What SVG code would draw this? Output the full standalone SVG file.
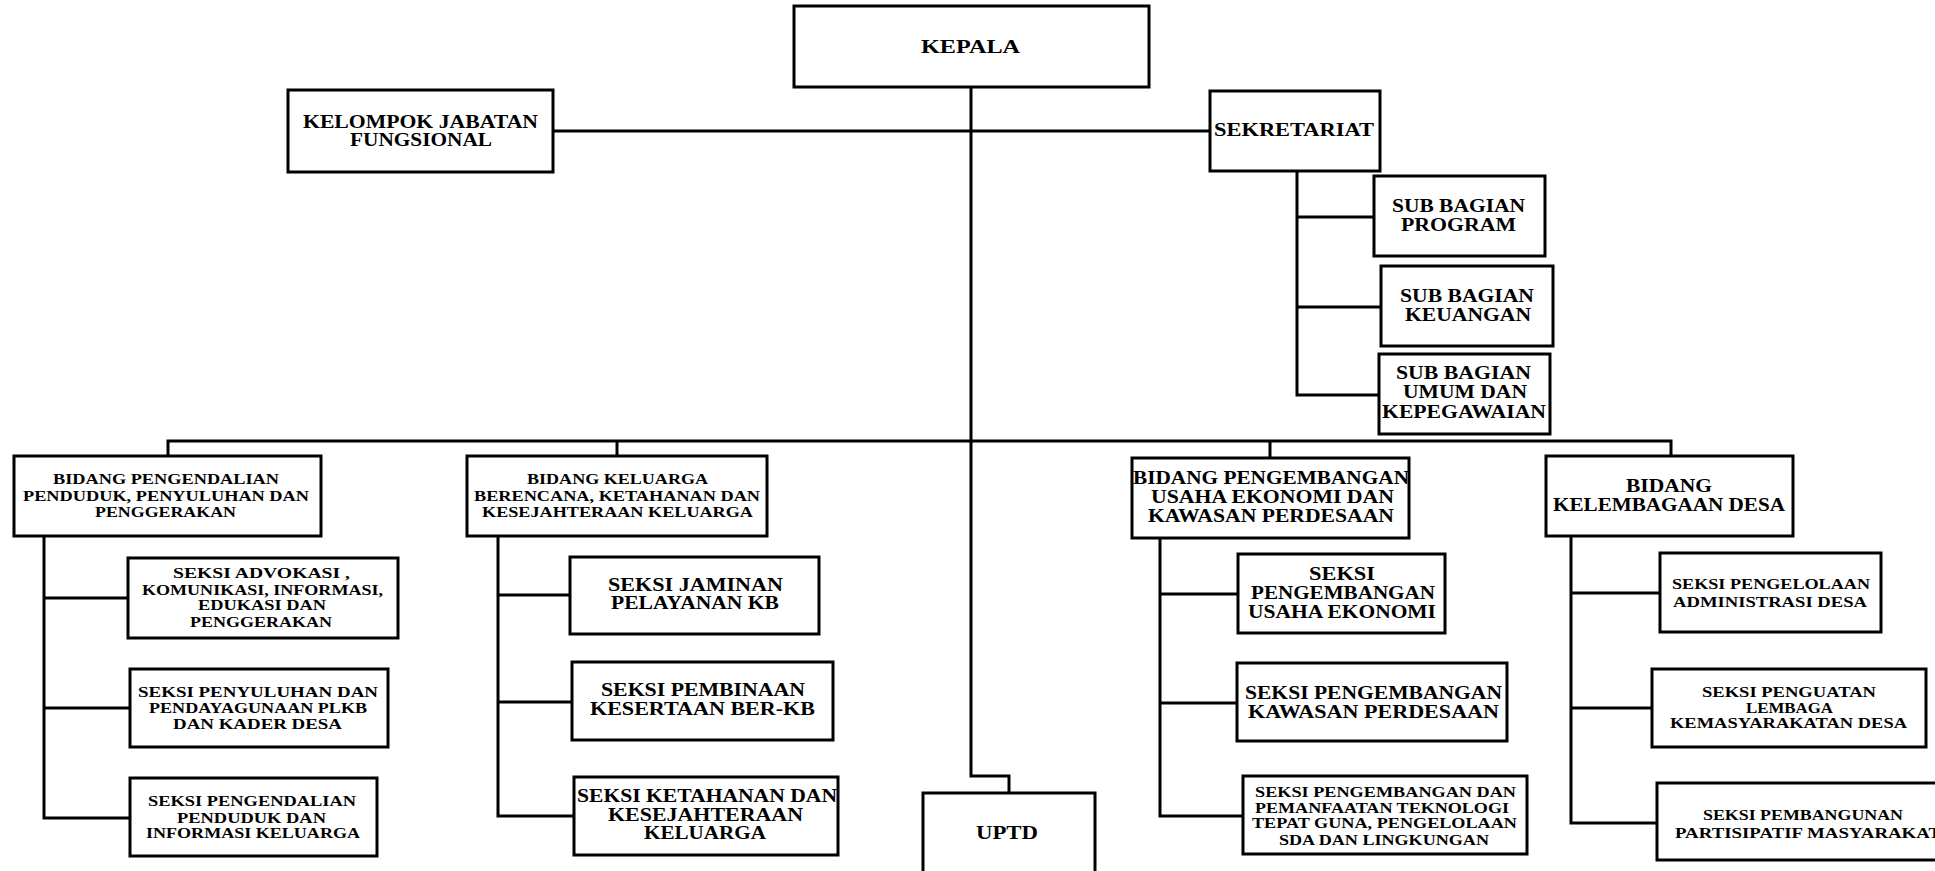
<svg xmlns="http://www.w3.org/2000/svg" width="1935" height="871" viewBox="0 0 1935 871">
<style>
.box{fill:#fff;stroke:#000;stroke-width:3}
.conn{fill:none;stroke:#000;stroke-width:3}
text{font-family:"Liberation Serif","DejaVu Serif",serif;font-weight:bold;fill:#000}
.b{font-size:18px}
.s{font-size:14px}
</style>
<rect width="1935" height="871" fill="#fff"/>
<g id="connectors">
<path class="conn" d="M971,87 V776 H1009 V793"/>
<path class="conn" d="M553,131 H1210"/>
<path class="conn" d="M168,456 V441 H1671 V456"/>
<path class="conn" d="M617,441 V456"/>
<path class="conn" d="M1270,441 V458"/>
<path class="conn" d="M1297,171 V395 H1379"/>
<path class="conn" d="M1297,217 H1374"/>
<path class="conn" d="M1297,307 H1381"/>
<path class="conn" d="M44,536 V818 H130"/>
<path class="conn" d="M44,598 H128"/>
<path class="conn" d="M44,708 H130"/>
<path class="conn" d="M498,536 V816 H574"/>
<path class="conn" d="M498,595 H570"/>
<path class="conn" d="M498,702 H572"/>
<path class="conn" d="M1160,538 V816 H1243"/>
<path class="conn" d="M1160,594 H1238"/>
<path class="conn" d="M1160,703 H1237"/>
<path class="conn" d="M1571,536 V823 H1657"/>
<path class="conn" d="M1571,593 H1660"/>
<path class="conn" d="M1571,708 H1652"/>
</g>
<g id="kepala">
<rect class="box" x="794" y="6" width="355" height="81"/>
<text class="b" x="921" y="53" textLength="99" lengthAdjust="spacingAndGlyphs">KEPALA</text>
</g>
<g id="kelompok">
<rect class="box" x="288" y="90" width="265" height="82"/>
<text class="b" x="303" y="128" textLength="235" lengthAdjust="spacingAndGlyphs">KELOMPOK JABATAN</text>
<text class="b" x="350" y="146" textLength="142" lengthAdjust="spacingAndGlyphs">FUNGSIONAL</text>
</g>
<g id="sekretariat">
<rect class="box" x="1210" y="91" width="170" height="80"/>
<text class="b" x="1214" y="136" textLength="160" lengthAdjust="spacingAndGlyphs">SEKRETARIAT</text>
</g>
<g id="sub-program">
<rect class="box" x="1374" y="176" width="171" height="80"/>
<text class="b" x="1392" y="212" textLength="133" lengthAdjust="spacingAndGlyphs">SUB BAGIAN</text>
<text class="b" x="1401" y="231" textLength="115" lengthAdjust="spacingAndGlyphs">PROGRAM</text>
</g>
<g id="sub-keuangan">
<rect class="box" x="1381" y="266" width="172" height="80"/>
<text class="b" x="1400" y="302" textLength="134" lengthAdjust="spacingAndGlyphs">SUB BAGIAN</text>
<text class="b" x="1405" y="321" textLength="126" lengthAdjust="spacingAndGlyphs">KEUANGAN</text>
</g>
<g id="sub-umum">
<rect class="box" x="1379" y="354" width="171" height="80"/>
<text class="b" x="1396" y="379" textLength="135" lengthAdjust="spacingAndGlyphs">SUB BAGIAN</text>
<text class="b" x="1403" y="398" textLength="124" lengthAdjust="spacingAndGlyphs">UMUM DAN</text>
<text class="b" x="1382" y="418" textLength="164" lengthAdjust="spacingAndGlyphs">KEPEGAWAIAN</text>
</g>
<g id="bidang-pengendalian">
<rect class="box" x="14" y="456" width="307" height="80"/>
<text class="s" x="53" y="484" textLength="226" lengthAdjust="spacingAndGlyphs">BIDANG  PENGENDALIAN</text>
<text class="s" x="23" y="501" textLength="286" lengthAdjust="spacingAndGlyphs">PENDUDUK,  PENYULUHAN DAN</text>
<text class="s" x="95" y="517" textLength="141" lengthAdjust="spacingAndGlyphs">PENGGERAKAN</text>
</g>
<g id="seksi-advokasi">
<rect class="box" x="128" y="558" width="270" height="80"/>
<text class="s" x="173" y="578" textLength="177" lengthAdjust="spacingAndGlyphs">SEKSI   ADVOKASI ,</text>
<text class="s" x="142" y="595" textLength="241" lengthAdjust="spacingAndGlyphs">KOMUNIKASI,  INFORMASI,</text>
<text class="s" x="198" y="610" textLength="128" lengthAdjust="spacingAndGlyphs">EDUKASI DAN</text>
<text class="s" x="190" y="627" textLength="142" lengthAdjust="spacingAndGlyphs">PENGGERAKAN</text>
</g>
<g id="seksi-penyuluhan">
<rect class="box" x="130" y="669" width="258" height="78"/>
<text class="s" x="138" y="697" textLength="240" lengthAdjust="spacingAndGlyphs">SEKSI   PENYULUHAN DAN</text>
<text class="s" x="149" y="713" textLength="218" lengthAdjust="spacingAndGlyphs">PENDAYAGUNAAN PLKB</text>
<text class="s" x="173" y="729" textLength="169" lengthAdjust="spacingAndGlyphs">DAN KADER  DESA</text>
</g>
<g id="seksi-pengendalian">
<rect class="box" x="130" y="778" width="247" height="78"/>
<text class="s" x="148" y="806" textLength="208" lengthAdjust="spacingAndGlyphs">SEKSI PENGENDALIAN</text>
<text class="s" x="177" y="823" textLength="149" lengthAdjust="spacingAndGlyphs">PENDUDUK  DAN</text>
<text class="s" x="146" y="838" textLength="214" lengthAdjust="spacingAndGlyphs">INFORMASI  KELUARGA</text>
</g>
<g id="bidang-kb">
<rect class="box" x="467" y="456" width="300" height="80"/>
<text class="s" x="527" y="484" textLength="181" lengthAdjust="spacingAndGlyphs">BIDANG  KELUARGA</text>
<text class="s" x="474" y="501" textLength="286" lengthAdjust="spacingAndGlyphs">BERENCANA,  KETAHANAN DAN</text>
<text class="s" x="482" y="517" textLength="271" lengthAdjust="spacingAndGlyphs">KESEJAHTERAAN KELUARGA</text>
</g>
<g id="seksi-jaminan">
<rect class="box" x="570" y="557" width="249" height="77"/>
<text class="b" x="608" y="591" textLength="175" lengthAdjust="spacingAndGlyphs">SEKSI JAMINAN</text>
<text class="b" x="611" y="609" textLength="168" lengthAdjust="spacingAndGlyphs">PELAYANAN KB</text>
</g>
<g id="seksi-pembinaan">
<rect class="box" x="572" y="662" width="261" height="78"/>
<text class="b" x="601" y="696" textLength="204" lengthAdjust="spacingAndGlyphs">SEKSI PEMBINAAN</text>
<text class="b" x="590" y="715" textLength="225" lengthAdjust="spacingAndGlyphs">KESERTAAN BER-KB</text>
</g>
<g id="seksi-ketahanan">
<rect class="box" x="574" y="777" width="264" height="78"/>
<text class="b" x="577" y="802" textLength="260" lengthAdjust="spacingAndGlyphs">SEKSI KETAHANAN DAN</text>
<text class="b" x="608" y="821" textLength="195" lengthAdjust="spacingAndGlyphs">KESEJAHTERAAN</text>
<text class="b" x="644" y="839" textLength="122" lengthAdjust="spacingAndGlyphs">KELUARGA</text>
</g>
<g id="uptd">
<rect class="box" x="923" y="793" width="172" height="95"/>
<text class="b" x="976" y="839" textLength="62" lengthAdjust="spacingAndGlyphs">UPTD</text>
</g>
<g id="bidang-pengembangan">
<rect class="box" x="1132" y="458" width="277" height="80"/>
<text class="b" x="1133" y="484" textLength="276" lengthAdjust="spacingAndGlyphs">BIDANG PENGEMBANGAN</text>
<text class="b" x="1151" y="503" textLength="243" lengthAdjust="spacingAndGlyphs">USAHA EKONOMI DAN</text>
<text class="b" x="1148" y="522" textLength="246" lengthAdjust="spacingAndGlyphs">KAWASAN PERDESAAN</text>
</g>
<g id="seksi-usaha-ekonomi">
<rect class="box" x="1238" y="554" width="207" height="79"/>
<text class="b" x="1309" y="580" textLength="66" lengthAdjust="spacingAndGlyphs">SEKSI</text>
<text class="b" x="1251" y="599" textLength="184" lengthAdjust="spacingAndGlyphs">PENGEMBANGAN</text>
<text class="b" x="1248" y="618" textLength="188" lengthAdjust="spacingAndGlyphs">USAHA EKONOMI</text>
</g>
<g id="seksi-kawasan">
<rect class="box" x="1237" y="663" width="270" height="78"/>
<text class="b" x="1245" y="699" textLength="257" lengthAdjust="spacingAndGlyphs">SEKSI PENGEMBANGAN</text>
<text class="b" x="1248" y="718" textLength="251" lengthAdjust="spacingAndGlyphs">KAWASAN PERDESAAN</text>
</g>
<g id="seksi-teknologi">
<rect class="box" x="1243" y="776" width="284" height="78"/>
<text class="s" x="1255" y="797" textLength="261" lengthAdjust="spacingAndGlyphs">SEKSI PENGEMBANGAN  DAN</text>
<text class="s" x="1255" y="813" textLength="254" lengthAdjust="spacingAndGlyphs">PEMANFAATAN  TEKNOLOGI</text>
<text class="s" x="1252" y="828" textLength="265" lengthAdjust="spacingAndGlyphs">TEPAT  GUNA, PENGELOLAAN</text>
<text class="s" x="1279" y="845" textLength="210" lengthAdjust="spacingAndGlyphs">SDA DAN LINGKUNGAN</text>
</g>
<g id="bidang-kelembagaan">
<rect class="box" x="1546" y="456" width="247" height="80"/>
<text class="b" x="1626" y="492" textLength="86" lengthAdjust="spacingAndGlyphs">BIDANG</text>
<text class="b" x="1553" y="511" textLength="232" lengthAdjust="spacingAndGlyphs">KELEMBAGAAN DESA</text>
</g>
<g id="seksi-administrasi">
<rect class="box" x="1660" y="553" width="221" height="79"/>
<text class="s" x="1672" y="589" textLength="198" lengthAdjust="spacingAndGlyphs">SEKSI PENGELOLAAN</text>
<text class="s" x="1673" y="607" textLength="194" lengthAdjust="spacingAndGlyphs">ADMINISTRASI  DESA</text>
</g>
<g id="seksi-penguatan">
<rect class="box" x="1652" y="669" width="274" height="78"/>
<text class="s" x="1702" y="697" textLength="174" lengthAdjust="spacingAndGlyphs">SEKSI PENGUATAN</text>
<text class="s" x="1746" y="713" textLength="87" lengthAdjust="spacingAndGlyphs">LEMBAGA</text>
<text class="s" x="1670" y="728" textLength="237" lengthAdjust="spacingAndGlyphs">KEMASYARAKATAN  DESA</text>
</g>
<g id="seksi-pembangunan">
<rect class="box" x="1657" y="783" width="290" height="77"/>
<text class="s" x="1703" y="820" textLength="200" lengthAdjust="spacingAndGlyphs">SEKSI PEMBANGUNAN</text>
<text class="s" x="1675" y="838" textLength="266" lengthAdjust="spacingAndGlyphs">PARTISIPATIF  MASYARAKAT</text>
</g>
</svg>
